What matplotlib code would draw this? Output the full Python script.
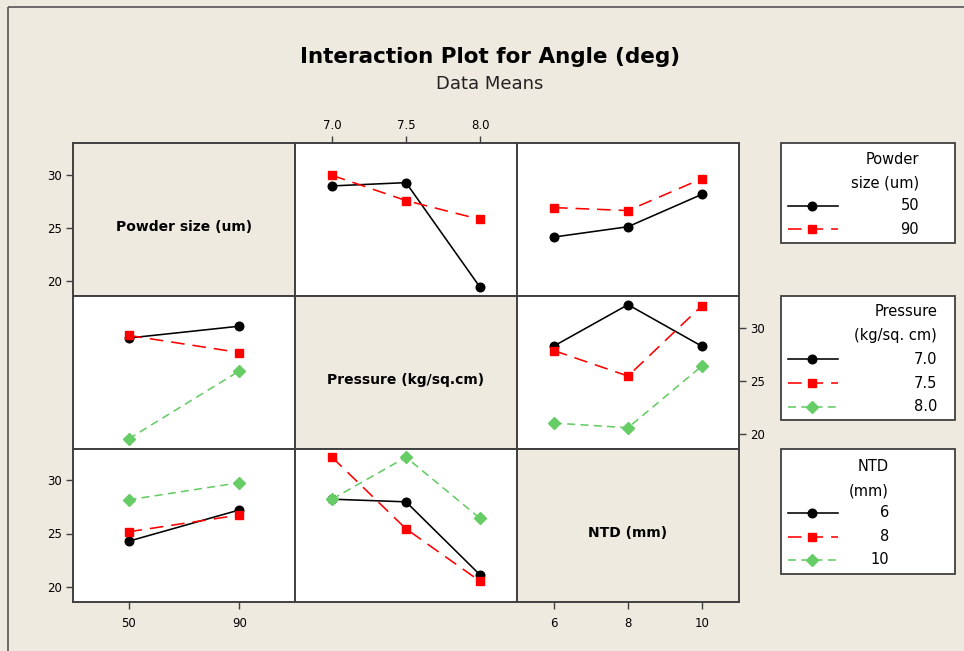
import matplotlib
matplotlib.use('Agg')
import matplotlib.pyplot as plt
from matplotlib.patches import Rectangle
from matplotlib.lines import Line2D

# ---------------- data ----------------
factor_names = ['Powder size (um)', 'Pressure (kg/sq.cm)', 'NTD (mm)']
legend_titles = ['Powder\nsize (um)', 'Pressure\n(kg/sq. cm)', 'NTD\n(mm)']
powder_levels = ['50', '90']
pressure_levels = ['7.0', '7.5', '8.0']
ntd_levels = ['6', '8', '10']
y_ticks = [20, 25, 30]

# traces of Powder size
powder50_vs_pressure = [28.96, 29.27, 19.43]
powder90_vs_pressure = [29.96, 27.58, 25.81]
powder50_vs_ntd = [24.15, 25.12, 28.17]
powder90_vs_ntd = [26.92, 26.64, 29.65]
# traces of Pressure
pressure70_vs_powder = [29.03, 30.15]
pressure75_vs_powder = [29.28, 27.66]
pressure80_vs_powder = [19.50, 25.93]
pressure70_vs_ntd = [28.28, 32.18, 28.25]
pressure75_vs_ntd = [27.84, 25.44, 32.09]
pressure80_vs_ntd = [21.00, 20.56, 26.40]
# traces of NTD
ntd6_vs_powder = [24.27, 27.22]
ntd8_vs_powder = [25.16, 26.74]
ntd10_vs_powder = [28.17, 29.78]
ntd6_vs_pressure = [28.23, 27.98, 21.11]
ntd8_vs_pressure = [32.18, 25.44, 20.51]
ntd10_vs_pressure = [28.23, 32.18, 26.43]

levels = [powder_levels, pressure_levels, ntd_levels]
# cells[(row, col)] -> list of series; row = trace factor, col = x factor
cells = {
    (0, 1): [powder50_vs_pressure, powder90_vs_pressure],
    (0, 2): [powder50_vs_ntd, powder90_vs_ntd],
    (1, 0): [pressure70_vs_powder, pressure75_vs_powder, pressure80_vs_powder],
    (1, 2): [pressure70_vs_ntd, pressure75_vs_ntd, pressure80_vs_ntd],
    (2, 0): [ntd6_vs_powder, ntd8_vs_powder, ntd10_vs_powder],
    (2, 1): [ntd6_vs_pressure, ntd8_vs_pressure, ntd10_vs_pressure],
}

# ---------------- styles ----------------
W, H = 964, 651
BG = '#EEEAE0'
EDGE = '#404040'
LW = 1.15
styles = [
    dict(color='black', ls='-', marker='o', ms=6.2),
    dict(color='#FF0000', ls=(0, (8.5, 5.0)), marker='s', ms=6),
    dict(color='#66CC66', ls=(0, (5.0, 3.3)), marker='D', ms=6.2),
]
YLIM = (18.6, 33.0)
col_edges = [73, 295, 517, 739]
row_edges = [143, 296, 448.5, 601.5]

plt.rcParams['font.family'] = ['DejaVu Sans']
fig = plt.figure(figsize=(W / 100, H / 100), dpi=100, facecolor=BG)

# outer frame
frame = fig.add_axes([0, 0, 1, 1])
frame.set_xlim(0, W)
frame.set_ylim(H, 0)
frame.axis('off')
frame.patch.set_alpha(0)
frame.add_patch(Rectangle((8, 7), W + 20, H + 20, fill=False, ec='#555555', lw=1.2))

fig.text(490 / W, 1 - 57 / H, 'Interaction Plot for Angle (deg)', ha='center', va='center',
         fontsize=15.5, fontweight='bold')
fig.text(490 / W, 1 - 84 / H, 'Data Means', ha='center', va='center', fontsize=13, color='#222222')

tick_fs = 8.5
for r in range(3):
    for c in range(3):
        x0, x1 = col_edges[c], col_edges[c + 1]
        y0, y1 = row_edges[r], row_edges[r + 1]
        ax = fig.add_axes([x0 / W, 1 - y1 / H, (x1 - x0) / W, (y1 - y0) / H])
        n = len(levels[c])
        ax.set_xlim(-0.5, n - 0.5)
        ax.set_ylim(*YLIM)
        for sp in ax.spines.values():
            sp.set_color(EDGE)
            sp.set_linewidth(1.4)
        ax.set_xticks(range(n))
        ax.set_xticklabels(levels[c])
        ax.set_yticks(y_ticks)
        ax.set_yticklabels([str(t) for t in y_ticks])
        ax.tick_params(axis='both', length=5, width=1, color=EDGE, labelsize=tick_fs, pad=3,
                       left=False, right=False, top=False, bottom=False,
                       labelleft=False, labelright=False, labeltop=False, labelbottom=False)
        if r == c:
            ax.set_facecolor(BG)
            ax.text(0.5, 0.45, factor_names[r], transform=ax.transAxes, ha='center', va='center',
                    fontsize=10, fontweight='bold')
        else:
            ax.set_facecolor('white')
            for k, ys in enumerate(cells[(r, c)]):
                ax.plot(range(n), ys, lw=LW, mec=styles[k]['color'], mfc=styles[k]['color'],
                        clip_on=False, **styles[k])
        # ticks placement like Minitab
        if c == 0 and r in (0, 2):
            ax.tick_params(axis='y', left=True, labelleft=True)
        if c == 2 and r == 1:
            ax.tick_params(axis='y', right=True, labelright=True)
        if r == 0 and c == 1:
            ax.tick_params(axis='x', top=True, labeltop=True)
        if r == 2 and c in (0, 2):
            ax.tick_params(axis='x', bottom=True, labelbottom=True, pad=6)

# ---------------- legends (Minitab style) ----------------
leg = fig.add_axes([0, 0, 1, 1])
leg.set_xlim(0, W)
leg.set_ylim(H, 0)
leg.axis('off')
leg.patch.set_alpha(0)
boxes = [(142.7, 243.3), (295.7, 420), (449, 574)]
right_edges = [919, 937, 889]
title_y = [(159, 183), (311.7, 335.7), (466.7, 491)]
entry_y = [[206, 229], [359.3, 383, 406.7], [512.7, 536.7, 560]]
for b in range(3):
    top, bot = boxes[b]
    leg.add_patch(Rectangle((781, top), 174, bot - top, fc='white', ec=EDGE, lw=1.3))
    for line_txt, ty in zip(legend_titles[b].split('\n'), title_y[b]):
        leg.text(right_edges[b], ty, line_txt, ha='right', va='center', fontsize=10.5)
    for k, (lev, ey) in enumerate(zip(levels[b], entry_y[b])):
        st = styles[k]
        leg.add_line(Line2D([788, 838], [ey, ey], color=st['color'], ls=st['ls'], lw=LW))
        leg.add_line(Line2D([812], [ey], color=st['color'], marker=st['marker'], ms=st['ms'],
                            mfc=st['color'], mec=st['color'], ls='none'))
        leg.text(right_edges[b], ey, lev, ha='right', va='center', fontsize=10.5)

fig.savefig('out.png', dpi=100, facecolor=BG)
